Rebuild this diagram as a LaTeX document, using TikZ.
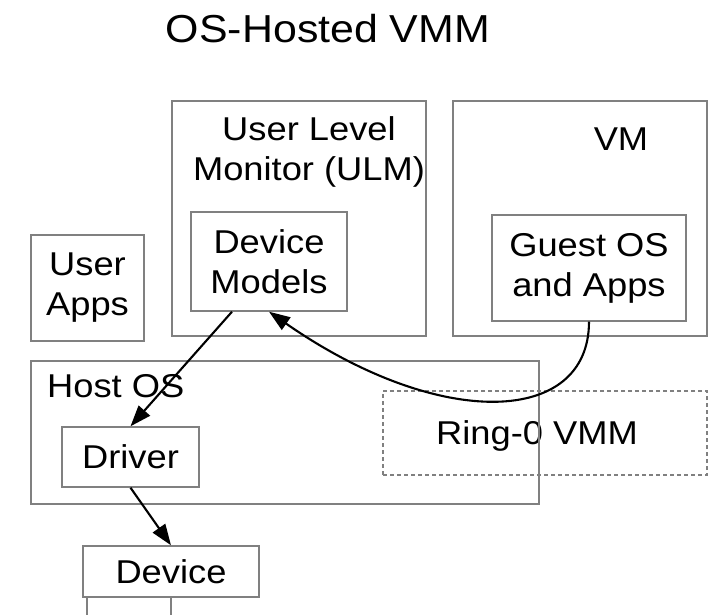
\documentclass[tikz,border=0pt]{standalone}
\usepackage{fontspec}
\setmainfont[FakeStretch=1.1]{Liberation Sans}
\usetikzlibrary{arrows.meta}
\definecolor{boxgray}{gray}{0.5}

\begin{document}
\begin{tikzpicture}[x=1pt,y=-1pt,
    every node/.style={font=\fontsize{33}{40}\selectfont, align=center, inner sep=0pt},
    box/.style={draw=boxgray, line width=1.4pt},
    flow/.style={draw=black, line width=2.1pt, -{Triangle[length=21pt,width=15pt]}}]
  \useasboundingbox (0,0) rectangle (715,615);
  \node[anchor=base, font=\fontsize{39}{44}\selectfont] (title) at (328,43) {OS-Hosted VMM};
  % user level part of the figure
  \node[box, minimum width=113pt, minimum height=106pt] (apps) at (87.5,288) {User\\Apps};
  \node[box, minimum width=254pt, minimum height=235pt] (ulm)  at (299,218.5) {};
  \node[anchor=north]                                    (ulmtext) at (309,116) {User Level\\Monitor (ULM)};
  \node[box, minimum width=156pt, minimum height=99pt]  (dm)   at (269,261.5) {Device\\Models};
  \node[box, minimum width=254pt, minimum height=235pt] (vm)   at (580,218.5) {};
  \node[anchor=base]                                     (vmtext) at (621,151) {VM};
  \node[box, minimum width=194pt, minimum height=106pt] (guest) at (589,268) {Guest OS\\and Apps};
  % kernel part
  \node[box, dash pattern=on 4pt off 3pt, minimum width=324pt, minimum height=84pt] (ring) at (545,433) {};
  \node[text depth=0pt]                                  (ringtext) at (537,433) {Ring-0 VMM};
  \node[box, minimum width=508pt, minimum height=143pt] (host) at (285,432.5) {};
  \node[anchor=base west]                                (hosttext) at (47,397) {Host OS};
  \node[box, minimum width=137pt, minimum height=60pt]  (drv)  at (130.5,457) {Driver};
  \node[box, minimum width=176pt, minimum height=51pt]  (dev)  at (171,571.5) {Device};
  \draw[box] (87,640) |- (171,597) -- (171,640);
  % arrows
  \draw[flow] ([xshift=-37pt]dm.south) -- (drv.north);
  \draw[flow] (drv.south) -- (dev.north);
  \draw[flow] (guest.south) .. controls +(0,104) and +(171,119) .. (dm.south);
\end{tikzpicture}
\end{document}
